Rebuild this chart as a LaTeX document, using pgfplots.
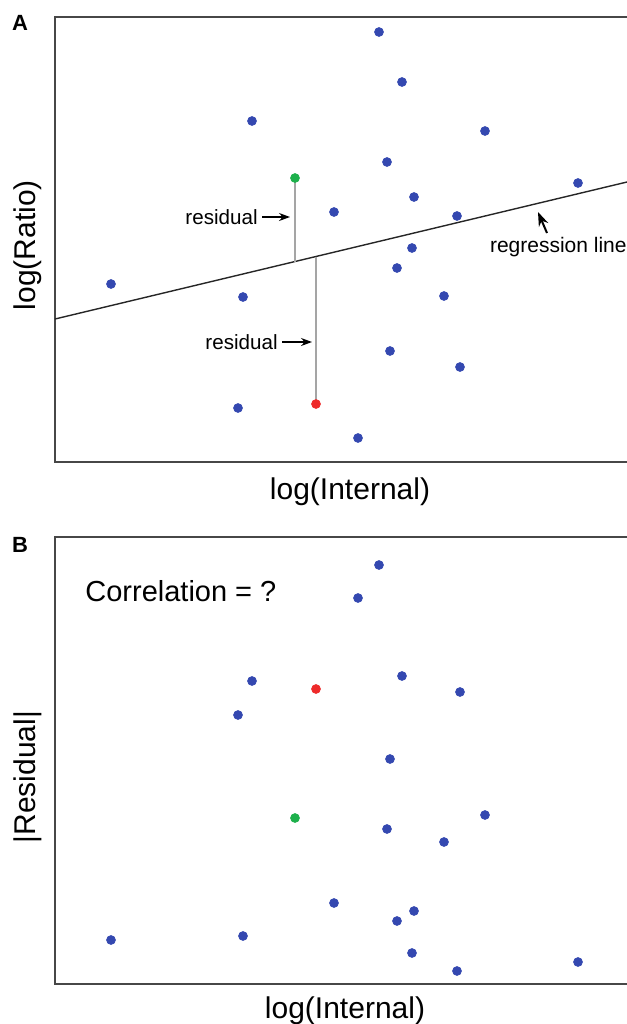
\documentclass[border=0pt]{standalone}
\usepackage{pgfplots}
\pgfplotsset{compat=1.18}
\usepackage{fontspec}
\setmainfont{Liberation Sans}
\usetikzlibrary{arrows.meta}

\definecolor{dotblue}{RGB}{52,72,176}
\definecolor{dotgreen}{RGB}{29,176,75}
\definecolor{dotred}{RGB}{238,42,42}
\definecolor{resgray}{RGB}{165,165,165}

\pgfplotsset{
  panel/.style={
    scale only axis, width=286pt,
    xmin=0, xmax=572, ymin=0,
    xtick=\empty, ytick=\empty,
    axis line style={draw=none},
    clip=false,
  },
  dots/.style={only marks, mark=*, mark size=2.2pt, color=#1},
}

\newcommand{\frameit}{%
  \draw[black!72, line width=0.9pt] (rel axis cs:1,1) -- (rel axis cs:0,1)
    -- (rel axis cs:0,0) -- (rel axis cs:1,0);}

\begin{document}
\begin{tikzpicture}
\useasboundingbox (0,0) rectangle (313.5pt,-512pt);

% panel A: log(Ratio) against log(Internal)
\begin{axis}[panel, at={(27.5pt,-231pt)}, anchor=south west,
  height=222.5pt, ymax=445]
\frameit
\addplot[black!85, line width=0.7pt] coordinates {(0,143) (572,280)};
\addplot[resgray, line width=0.6pt] coordinates {(240,284) (240,200.5)};
\addplot[resgray, line width=0.6pt] coordinates {(261,58) (261,205.5)};
\addplot[dots=dotblue] coordinates {
  (324,430) (347,380) (197,341) (430,331) (332,300) (523,279)
  (359,265) (279,250) (402,246) (357,214) (342,194) (56,178)
  (188,165) (389,166) (335,111) (405,95) (183,54) (303,24)
};
\addplot[dots=dotgreen] coordinates {(240,284)};
\addplot[dots=dotred] coordinates {(261,58)};
\node[anchor=east, inner sep=0pt, font=\fontsize{10.3}{12}\selectfont] at (axis cs:203,245) {residual};
\draw[-{Stealth[length=5.5pt,width=4pt]}, line width=0.6pt] (axis cs:207,245) -- (axis cs:235,245);
\node[anchor=east, inner sep=0pt, font=\fontsize{10.3}{12}\selectfont] at (axis cs:223,120) {residual};
\draw[-{Stealth[length=5.5pt,width=4pt]}, line width=0.6pt] (axis cs:227,120) -- (axis cs:257,120);
\node[anchor=east, inner sep=0pt, font=\fontsize{10.5}{12}\selectfont] at (axis cs:572,215) {regression line};
\draw[-{Stealth[length=7pt,width=5pt]}, line width=1pt] (axis cs:492,229) -- (axis cs:483,250);
\node[font=\fontsize{15}{18}\selectfont] at (axis cs:295,-30) {log(Internal)};
\node[font=\fontsize{15}{18}\selectfont, rotate=90] at (axis cs:-27,217) {log(Ratio)};
\node[font=\fontsize{11}{13}\selectfont\bfseries] at (axis cs:-35,439) {A};
\end{axis}

% panel B: |residual| against log(Internal)
\begin{axis}[panel, at={(27.5pt,-492pt)}, anchor=south west,
  height=223.5pt, ymax=447]
\frameit
\addplot[dots=dotblue] coordinates {
  (324,419) (303,386) (197,303) (347,308) (405,292) (183,269)
  (335,225) (430,169) (332,155) (389,142) (279,81) (359,73)
  (342,63) (56,44) (188,48) (357,31) (402,13) (523,22)
};
\addplot[dots=dotgreen] coordinates {(240,166)};
\addplot[dots=dotred] coordinates {(261,295)};
\node[anchor=west, inner sep=0pt, font=\fontsize{14.5}{17}\selectfont] at (axis cs:30,393) {Correlation = ?};
\node[font=\fontsize{15}{18}\selectfont] at (axis cs:290,-27) {log(Internal)};
\node[font=\fontsize{15}{18}\selectfont, rotate=90] at (axis cs:-27,207) {|Residual|};
\node[font=\fontsize{11}{13}\selectfont\bfseries] at (axis cs:-35,439) {B};
\end{axis}
\end{tikzpicture}
\end{document}
